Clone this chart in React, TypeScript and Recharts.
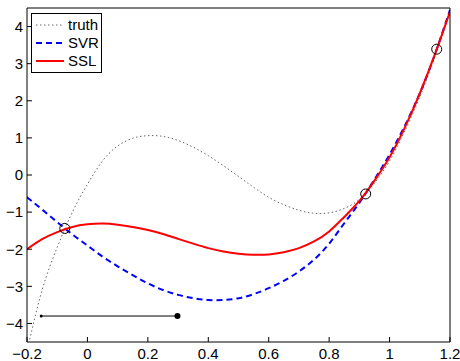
import { ComposedChart, Line, Scatter, XAxis, YAxis, Legend } from 'recharts';

// sample grid shared by the three curves
const xGrid = [
  -0.2, -0.15, -0.1, -0.05, 0, 0.05, 0.1, 0.15, 0.2, 0.25, 0.3, 0.35, 0.4, 0.45,
  0.5, 0.55, 0.6, 0.65, 0.7, 0.75, 0.8, 0.85, 0.9, 0.95, 1.0, 1.05, 1.1, 1.15, 1.2,
];
const truth = [
  -4.75, -3.1, -1.95, -1.0, -0.25, 0.38, 0.78, 0.99, 1.06, 1.04, 0.93, 0.75, 0.52, 0.25,
  -0.04, -0.33, -0.6, -0.8, -0.95, -1.03, -1.02, -0.9, -0.66, -0.22, 0.38, 1.18, 2.1, 3.2, 4.4,
];
const svr = [
  -0.6, -0.93, -1.27, -1.6, -1.9, -2.2, -2.46, -2.7, -2.92, -3.1, -3.23, -3.32, -3.37, -3.37,
  -3.32, -3.21, -3.05, -2.85, -2.6, -2.28, -1.85, -1.3, -0.75, -0.12, 0.55, 1.32, 2.2, 3.25, 4.45,
];
const ssl = [
  -2.0, -1.73, -1.54, -1.4, -1.33, -1.31, -1.34, -1.4, -1.48, -1.59, -1.72, -1.85, -1.97, -2.06,
  -2.12, -2.15, -2.14, -2.08, -1.97, -1.79, -1.52, -1.13, -0.7, -0.15, 0.48, 1.27, 2.2, 3.25, 4.4,
];

// labeled points (circles)
const labeledX = [-0.075, 0.921, 1.156];
const labeledY = [-1.44, -0.51, 3.39];

// horizontal bar at the bottom
const barX = [-0.153, 0.298];
const barY = [-3.8, -3.8];

const xTicks = [-0.2, 0, 0.2, 0.4, 0.6, 0.8, 1, 1.2];
const yTicks = [-4, -3, -2, -1, 0, 1, 2, 3, 4];
const legendOrder = ['truth', 'SVR', 'SSL'];

const curves = xGrid.map((x, i) => ({ x, truth: truth[i], SVR: svr[i], SSL: ssl[i] }));
const labeled = labeledX.map((x, i) => ({ x, y: labeledY[i] }));
const bar = barX.map((x, i) => ({ x, bar: barY[i] }));

const fmt = (v: number) => String(v).replace('-', '\u2212');

const legendDash: Record<string, string | undefined> = {
  truth: '1.5 2.5',
  SVR: '6 4',
  SSL: undefined,
};

function LegendBox(props: any) {
  const items = (props.payload || [])
    .filter((p: any) => legendOrder.includes(p.value))
    .sort((a: any, b: any) => legendOrder.indexOf(a.value) - legendOrder.indexOf(b.value));
  return (
    <div style={{ border: '1px solid #000', background: '#fff', width: 69, padding: '2px 0' }}>
      {items.map((p: any) => (
        <div key={p.value} style={{ display: 'flex', alignItems: 'center', height: 18 }}>
          <svg width={36} height={18}>
            <line
              x1={4} x2={32} y1={9} y2={9}
              stroke={p.color}
              strokeWidth={p.value === 'truth' ? 1 : 2}
              strokeDasharray={legendDash[p.value]}
            />
          </svg>
          <span style={{ fontSize: 15, color: '#000', lineHeight: '18px' }}>{p.value}</span>
        </div>
      ))}
    </div>
  );
}

function Ring(props: any) {
  const { cx, cy } = props;
  return <circle cx={cx} cy={cy} r={5} fill="none" stroke="#000" strokeWidth={1} />;
}

function BarDot(props: any) {
  const { cx, cy, index } = props;
  return <circle key={index} cx={cx} cy={cy} r={index === 0 ? 1.5 : 3} fill="#000" />;
}

export default function App() {
  return (
    <div style={{ position: 'absolute', left: 0, top: 0, fontFamily: '"Liberation Sans", Arial, sans-serif' }}>
      <ComposedChart width={460} height={361} data={curves} margin={{ top: 0, right: 0, bottom: 0, left: 0 }}>
        <XAxis
          type="number" dataKey="x" domain={[-0.2, 1.2]} ticks={xTicks} interval={0}
          tickSize={-5} tickMargin={11} height={19} tickFormatter={fmt}
          tick={{ fill: '#000', fontSize: 15 }} stroke="#000" allowDataOverflow
        />
        <XAxis
          xAxisId="top" orientation="top" type="number" dataKey="x" domain={[-0.2, 1.2]}
          ticks={xTicks} interval={0} tick={false} tickSize={-5} height={8} stroke="#000"
        />
        <YAxis
          type="number" domain={[-4.5, 4.5]} ticks={yTicks} interval={0}
          tickSize={-5} tickMargin={9} width={27} tickFormatter={fmt}
          tick={{ fill: '#000', fontSize: 15 }} stroke="#000" allowDataOverflow
        />
        <YAxis
          yAxisId="right" orientation="right" type="number" domain={[-4.5, 4.5]}
          ticks={yTicks} interval={0} tick={false} tickSize={-5} width={10} stroke="#000"
        />
        <Legend
          layout="vertical" align="center" verticalAlign="middle"
          wrapperStyle={{ left: 31, top: 13, width: 'auto', height: 'auto' }}
          content={<LegendBox />}
        />
        <Line dataKey="truth" name="truth" type="natural" stroke="#666" strokeWidth={1}
          strokeDasharray="1.5 2.5" dot={false} isAnimationActive={false} />
        <Line dataKey="SVR" name="SVR" type="natural" stroke="#0000ff" strokeWidth={2}
          strokeDasharray="6 4" dot={false} isAnimationActive={false} />
        <Line dataKey="SSL" name="SSL" type="natural" stroke="#ff0000" strokeWidth={2}
          dot={false} isAnimationActive={false} />
        <Line data={bar} dataKey="bar" stroke="#000" strokeWidth={1} dot={<BarDot />}
          legendType="none" isAnimationActive={false} />
        <Scatter data={labeled} dataKey="y" shape={<Ring />} legendType="none" isAnimationActive={false} />
      </ComposedChart>
    </div>
  );
}
